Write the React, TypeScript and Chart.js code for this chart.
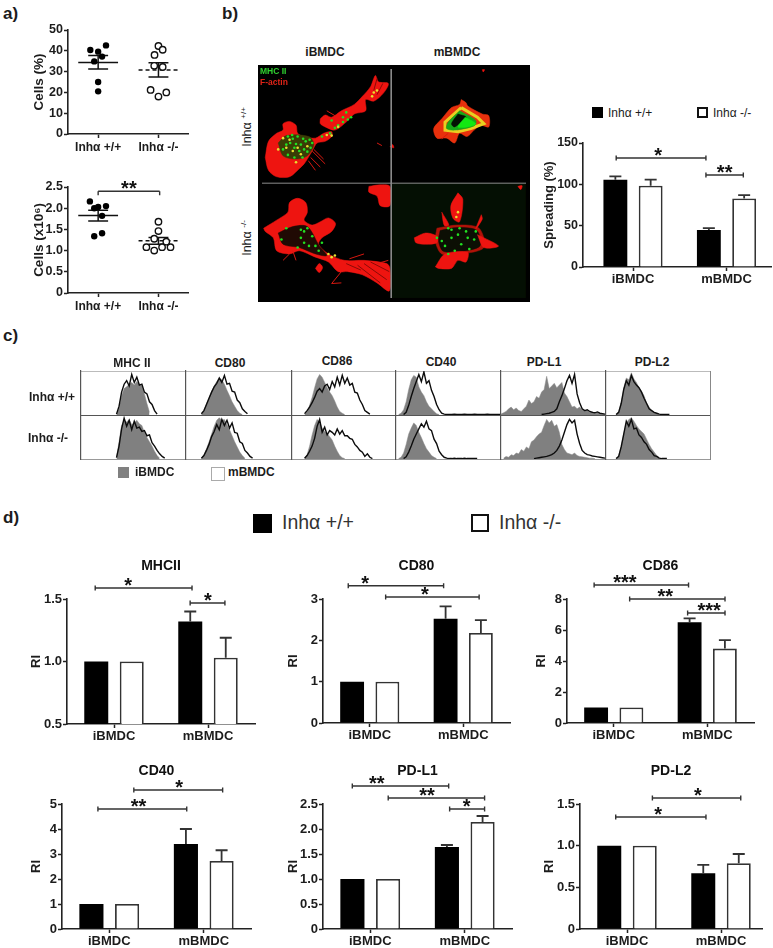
import { useEffect, useRef } from 'react';
import { Chart, registerables } from 'chart.js';

Chart.register(...registerables);
const FONT = "'Liberation Sans', Arial, sans-serif";
Chart.defaults.font.family = FONT;
Chart.defaults.color = '#1c1c1c';

// ---------- data ----------
const groups = ['iBMDC', 'mBMDC'];
const genotypes = ['Inhα +/+', 'Inhα -/-'];

// panel a: [x jitter, value]
const freqWt = [[0.13, 42.6], [-0.13, 40.4], [0, 39.6], [0.065, 37.2], [-0.065, 34.9], [0, 25], [0, 20.5]];
const freqKo = [[0, 42.3], [0.07, 40.5], [-0.065, 38], [-0.07, 32.8], [0.07, 32.2], [-0.13, 21.2], [0.13, 20], [0, 18]];
const freqWtSummary = [34.4, 31.25, 37.7];
const freqKoSummary = [30.8, 27.4, 34.3];
const countWt = [[-0.137, 2.16], [-0.065, 2.0], [0, 2.03], [0.13, 2.05], [0.065, 1.82], [0.065, 1.41], [-0.065, 1.34]];
const countKo = [[0, 1.68], [0, 1.46], [-0.07, 1.28], [0.13, 1.21], [-0.2, 1.08], [0.06, 1.08], [0.2, 1.08], [-0.07, 1.0]];
const countWtSummary = [1.83, 1.7, 1.95];
const countKoSummary = [1.23, 1.15, 1.31];

// bars: wild type / knockout means and upper error ends
const spreadingWt = [105.6, 44.8];
const spreadingKo = [98.4, 83];
const spreadingWtErr = [109.6, 47];
const spreadingKoErr = [105.6, 87];
const mhcWt = [1, 1.32];
const mhcKo = [1, 1.03];
const mhcWtErr = [1, 1.4];
const mhcKoErr = [1, 1.19];
const cd80Wt = [1, 2.52];
const cd80Ko = [1, 2.18];
const cd80WtErr = [1, 2.82];
const cd80KoErr = [1, 2.49];
const cd86Wt = [1, 6.5];
const cd86Ko = [1, 4.8];
const cd86WtErr = [1, 6.75];
const cd86KoErr = [1, 5.35];
const cd40Wt = [1, 3.4];
const cd40Ko = [1, 2.72];
const cd40WtErr = [1, 4.0];
const cd40KoErr = [1, 3.15];
const pdl1Wt = [1, 1.64];
const pdl1Ko = [1, 2.14];
const pdl1WtErr = [1, 1.68];
const pdl1KoErr = [1, 2.26];
const pdl2Wt = [1, 0.67];
const pdl2Ko = [1, 0.79];
const pdl2WtErr = [1, 0.77];
const pdl2KoErr = [1, 0.9];

// significance brackets: [from, to, level, label position, label]
const spreadingBrackets = [[-0.18, 0.78, 131.8, 0.27, '*'], [0.78, 1.18, 111.3, 0.98, '**']];
const mhcBrackets = [[-0.2, 0.83, 1.588, 0.15, '*'], [0.81, 1.18, 1.468, 1.0, '*']];
const cd80Brackets = [[-0.23, 0.79, 3.32, -0.05, '*'], [0.17, 1.17, 3.05, 0.59, '*']];
const cd86Brackets = [[-0.21, 0.8, 8.9, 0.12, '***'], [0.17, 1.19, 8.0, 0.55, '**'], [0.79, 1.19, 7.1, 1.02, '***']];
const cd40Brackets = [[0.26, 1.2, 5.56, 0.74, '*'], [-0.12, 0.82, 4.8, 0.31, '**']];
const pdl1Brackets = [[-0.19, 0.83, 2.86, 0.07, '**'], [0.19, 1.21, 2.62, 0.6, '**'], [0.84, 1.21, 2.4, 1.02, '*']];
const pdl2Brackets = [[0.27, 1.21, 1.572, 0.755, '*'], [-0.12, 0.84, 1.344, 0.33, '*']];
const countBrackets = [[0, 1.02, 2.4, 0.51, '**']];

// panel c: flow cytometry histograms, [first bin, heights]
const BIN_COUNT = 42;
const histMhcWtGrey = [14, [3, 16, 44, 60, 64, 70, 74, 68, 76, 70, 66, 48, 26, 6]];
const histMhcWtBlack = [14, [2, 20, 52, 70, 78, 66, 92, 74, 86, 68, 70, 52, 48, 30, 24, 10, 2]];
const histMhcKoGrey = [14, [4, 40, 78, 90, 86, 92, 80, 84, 90, 82, 78, 62, 50, 40, 30, 18, 8, 2]];
const histMhcKoBlack = [14, [3, 30, 70, 95, 76, 90, 68, 88, 72, 74, 64, 66, 54, 56, 38, 30, 20, 12, 6, 2]];
const hist80WtGrey = [6, [2, 10, 26, 40, 54, 66, 76, 84, 80, 70, 56, 44, 30, 20, 10, 4, 1]];
const hist80WtBlack = [6, [3, 10, 24, 38, 52, 64, 72, 84, 74, 90, 70, 72, 54, 52, 34, 28, 14, 8, 3]];
const hist80KoGrey = [6, [2, 10, 24, 40, 58, 76, 90, 96, 90, 92, 80, 68, 54, 40, 28, 16, 8, 2]];
const hist80KoBlack = [6, [2, 8, 20, 34, 52, 64, 80, 68, 92, 78, 90, 72, 84, 62, 60, 40, 36, 20, 14, 6, 2]];
const hist86WtGrey = [5, [2, 8, 22, 40, 62, 82, 92, 86, 74, 62, 52, 44, 32, 18, 8, 4, 1]];
const hist86WtBlack = [5, [3, 10, 18, 28, 40, 54, 60, 52, 66, 70, 58, 76, 64, 86, 68, 90, 72, 84, 68, 72, 52, 50, 34, 24, 10, 6, 2]];
const hist86KoGrey = [5, [2, 10, 30, 56, 78, 92, 86, 72, 64, 60, 52, 44, 30, 18, 8, 3, 1]];
const hist86KoBlack = [5, [2, 8, 18, 30, 48, 76, 92, 62, 74, 56, 66, 62, 56, 70, 58, 66, 54, 54, 48, 46, 34, 28, 20, 16, 6, 12, 4, 1]];
const hist40WtGrey = [1, [1, 4, 12, 30, 58, 80, 90, 86, 64, 52, 44, 30, 20, 14, 8, 3, 1]];
const hist40WtBlack = [3, [1, 6, 22, 42, 60, 76, 92, 76, 98, 72, 78, 56, 42, 24, 12, 4, 2, 1, 1, 1, 2, 1, 1, 1, 2, 1, 1, 1, 2, 1, 1, 1, 1, 2, 1, 1, 1, 1, 1]];
const hist40KoGrey = [1, [1, 4, 14, 34, 58, 72, 84, 78, 62, 50, 36, 24, 16, 8, 4, 1]];
const hist40KoBlack = [3, [1, 5, 16, 30, 46, 58, 70, 82, 74, 88, 70, 66, 46, 36, 18, 10, 4, 2, 1, 1, 2, 1, 1, 1, 2, 1, 1, 1, 1, 1]];
const histL1WtGrey = [0, [2, 5, 8, 14, 18, 12, 16, 10, 8, 14, 20, 34, 26, 30, 42, 38, 52, 58, 88, 60, 66, 72, 62, 68, 74, 50, 42, 30, 18, 20, 14, 18, 12, 8, 10, 6, 8, 4, 5, 2, 3, 1]];
const histL1WtBlack = [16, [1, 2, 3, 4, 6, 8, 14, 30, 44, 60, 78, 90, 72, 92, 48, 28, 14, 10, 12, 8, 6, 5, 7, 4, 3, 2]];
const histL1KoGrey = [1, [2, 6, 4, 10, 8, 14, 12, 22, 18, 28, 24, 40, 44, 52, 58, 62, 78, 92, 84, 90, 76, 80, 62, 34, 22, 14, 12, 10, 14, 8, 6, 5, 4, 3, 2, 2, 1]];
const histL1KoBlack = [13, [1, 2, 3, 4, 5, 6, 8, 10, 14, 20, 30, 44, 62, 80, 92, 84, 90, 58, 36, 20, 14, 10, 9, 7, 6, 5, 4, 3, 2, 1]];
const histL2WtGrey = [4, [1, 8, 30, 62, 84, 80, 96, 82, 74, 62, 54, 44, 28, 18, 10, 6, 3, 1]];
const histL2WtBlack = [4, [1, 6, 26, 58, 78, 68, 90, 76, 68, 62, 52, 38, 26, 14, 10, 6, 4, 2, 1, 1, 1, 1]];
const histL2KoGrey = [4, [1, 8, 32, 60, 84, 92, 96, 88, 78, 70, 64, 58, 46, 34, 24, 16, 8, 3]];
const histL2KoBlack = [4, [1, 6, 28, 58, 88, 76, 92, 70, 72, 56, 50, 40, 34, 22, 16, 8, 6, 2, 1, 1, 1]];
const histColumns = ['MHC II', 'CD80', 'CD86', 'CD40', 'PD-L1', 'PD-L2'];

const cellABlob = [[95, 470], [105, 420], [130, 395], [150, 385], [150, 365], [170, 358], [190, 370], [195, 395], [215, 405], [250, 410], [275, 395], [300, 390], [300, 405], [280, 420], [255, 425], [240, 450], [225, 475], [215, 490], [200, 505], [170, 530], [130, 530], [105, 510]];
const cellAArm = [[265, 350], [280, 338], [300, 345], [330, 325], [370, 305], [395, 280], [420, 250], [435, 215], [445, 235], [475, 240], [460, 270], [430, 295], [405, 290], [405, 325], [370, 335], [345, 360], [310, 385], [280, 375], [265, 365]];
const cellACore = [[135, 425], [160, 402], [230, 405], [245, 430], [225, 465], [190, 475], [150, 465]];
const cellBBody = [[700, 290], [715, 300], [720, 310], [765, 335], [785, 340], [785, 375], [760, 370], [740, 385], [718, 405], [695, 395], [680, 425], [655, 410], [625, 410], [615, 380], [640, 350], [670, 315], [695, 305]];
const cellBRing = [[700, 315], [750, 345], [770, 365], [730, 380], [690, 390], [650, 385], [650, 360]];
const cellBInner = [[695, 325], [745, 355], [740, 372], [680, 385], [655, 380], [660, 360]];
const cellBVoid = [[690, 335], [715, 345], [680, 375], [670, 365]];
const cellBBright = [[712, 345], [745, 365], [720, 375], [690, 375]];
const cellCBody = [[90, 690], [130, 665], [165, 640], [170, 610], [195, 597], [220, 610], [225, 640], [215, 665], [240, 680], [265, 670], [290, 658], [312, 675], [300, 700], [270, 720], [260, 740], [290, 770], [340, 790], [400, 790], [470, 800], [480, 815], [478, 885], [440, 860], [395, 835], [350, 825], [320, 825], [290, 795], [250, 780], [200, 760], [170, 770], [130, 760], [120, 720], [95, 700]];
const cellCCore = [[135, 705], [180, 685], [225, 685], [262, 745], [285, 775], [250, 770], [200, 750], [150, 740]];
const cellCBlob = [[415, 560], [450, 555], [480, 560], [480, 620], [450, 620], [440, 590], [415, 578]];
const cellCSmall = [[250, 815], [262, 800], [272, 812], [262, 828]];
const cellDSpike = [[690, 580], [705, 600], [695, 670], [675, 660], [668, 620]];
const cellDLeft = [[555, 720], [590, 705], [625, 715], [625, 735], [590, 740], [560, 735]];
const cellDRight = [[750, 710], [815, 745], [770, 750]];
const cellDTop = [[640, 640], [662, 680], [648, 682]];
const cellDUpper = [[762, 648], [765, 662], [745, 692]];
const cellDLower = [[620, 810], [650, 770], [720, 765], [715, 795], [690, 790], [670, 815], [630, 815]];
const cellDBody = [[625, 690], [690, 680], [755, 690], [770, 750], [700, 770], [640, 770], [620, 730]];
const cellDCore = [[635, 697], [690, 688], [748, 697], [758, 745], [700, 762], [645, 762], [630, 730]];
const redFlecks = [[[480, 437], [488, 430], [492, 440]], [[875, 560], [888, 558], [884, 570]], [[765, 197], [772, 197], [768, 204]]];
const redSpikes = [
  [[240, 450], [280, 490]], [[245, 445], [275, 475]], [[235, 470], [265, 500]], [[228, 480], [250, 510]],
  [[285, 325], [310, 340]], [[440, 425], [455, 433]], [[660, 395], [640, 412]],
  [[180, 760], [190, 790]], [[355, 785], [400, 770]], [[330, 825], [300, 862], [330, 860]], [[170, 770], [150, 790]],
  [[440, 800], [475, 790]],
];
const darkStreaks = [[[400, 800], [470, 850]], [[420, 795], [478, 825]], [[380, 805], [450, 860]], [[345, 800], [390, 820]], [[440, 225], [430, 262]], [[458, 240], [440, 275]]];
const greenSpots = [
  [165, 405], [180, 412], [195, 405], [172, 425], [190, 428], [205, 430], [220, 420], [232, 415], [150, 445], [165, 462], [200, 450], [215, 445], [235, 440], [240, 425], [185, 470], [210, 470], [178, 400], [212, 412], [160, 430], [185, 440], [225, 452],
  [320, 370], [335, 345], [345, 330], [360, 345], [300, 355], [310, 378], [350, 352], [335, 360], [295, 395], [270, 405],
  [205, 720], [215, 735], [230, 745], [240, 715], [215, 700], [195, 750], [260, 760], [250, 745], [225, 690], [160, 690], [145, 725], [270, 735], [205, 695],
  [660, 690], [670, 720], [690, 710], [700, 740], [720, 720], [740, 725], [650, 745], [680, 760], [660, 770], [725, 755], [715, 700], [670, 695], [640, 730], [745, 700], [695, 690], [625, 720],
];
const yellowSpots = [[170, 415], [160, 440], [195, 440], [180, 450], [205, 460], [225, 435], [150, 410], [135, 445], [190, 485], [430, 268], [440, 262], [425, 280], [320, 375], [285, 400], [300, 402], [290, 770], [300, 780], [310, 775], [685, 655], [690, 640]];
const gridLinesV = [[484, 195], [484, 907]];
const gridLinesH = [[85, 550], [900, 550]];
const darkGreenQuarter = [[484, 550], [900, 550], [900, 907], [484, 907]];

// ---------- helpers ----------
const INK = '#222';
const bins = ([first, vals]: any) => Array.from({ length: BIN_COUNT }, (_, i) => (i >= first && i < first + vals.length ? vals[i - first] : null));

function drawBrackets(chart: any, brackets: any[], capDown = false) {
  const { ctx, scales: { x, y } } = chart;
  ctx.save();
  ctx.strokeStyle = '#333';
  ctx.lineWidth = 1.4;
  ctx.fillStyle = '#111';
  ctx.textAlign = 'center';
  ctx.textBaseline = 'alphabetic';
  ctx.font = `bold 20px ${FONT}`;
  for (const [from, to, level, at, label] of brackets) {
    const x0 = x.getPixelForValue(from);
    const x1 = x.getPixelForValue(to);
    const py = y.getPixelForValue(level);
    ctx.beginPath();
    ctx.moveTo(x0, py); ctx.lineTo(x1, py);
    for (const e of [x0, x1]) { ctx.moveTo(e, capDown ? py : py - 2.5); ctx.lineTo(e, capDown ? py + 4 : py + 2.5); }
    ctx.stroke();
    ctx.fillText(label, x.getPixelForValue(at), py + 4);
  }
  ctx.restore();
}

function scales(p: any, labels: string[]) {
  const [min, max] = p.xRange;
  return {
    x: {
      type: 'linear', min, max, offset: false,
      afterBuildTicks: (s: any) => { s.ticks = labels.map((_, i) => ({ value: i })); },
      afterFit: (s: any) => { s.height = 26; },
      grid: { display: true, offset: false, drawOnChartArea: false, drawTicks: true, tickLength: 4, tickColor: INK, tickWidth: 1.5 },
      border: { display: true, color: INK, width: 1.6 },
      ticks: { autoSkip: false, maxRotation: 0, padding: p.xPad ?? 1, font: { size: p.xFont ?? 13, weight: 'bold' }, callback: (v: number) => labels[v] },
    },
    y: {
      min: p.yRange[0], max: p.yRange[1],
      afterFit: (s: any) => { s.width = 50; },
      grid: { display: true, drawOnChartArea: false, drawTicks: true, tickLength: 4, tickColor: INK, tickWidth: 1.5 },
      border: { display: true, color: INK, width: 1.6 },
      ticks: { stepSize: p.step, padding: 1, font: { size: p.tickFont ?? 13, weight: 'bold' } },
      title: { display: true, text: p.yTitle, font: { size: p.titleFont ?? 13, weight: 'bold' }, padding: { top: 50 - p.titleDist - 7.8, bottom: 0 } },
    },
  };
}

function baseOptions(p: any, labels: string[]) {
  const T = 45;
  return {
    responsive: false, animation: false, events: [],
    layout: { padding: { left: 0, right: 4, top: p.title ? 0 : T, bottom: 0 } },
    plugins: {
      legend: { display: false }, tooltip: { enabled: false },
      title: p.title
        ? { display: true, fullSize: false, text: p.title, color: '#111', font: { size: 14, weight: 'bold', lineHeight: 1.2 }, padding: { top: 3.8, bottom: T - 16.8 - 3.8 } }
        : { display: false },
    },
    scales: scales(p, labels),
  };
}

function barConfig(p: any) {
  const toPts = (a: number[]) => a.map((y, x) => ({ x, y }));
  return {
    type: 'bar',
    data: {
      datasets: [
        { label: genotypes[0], data: toPts(p.wt), backgroundColor: '#000', borderWidth: 0, categoryPercentage: 0.755, barPercentage: 0.676 },
        { label: genotypes[1], data: toPts(p.ko), backgroundColor: '#fff', borderColor: '#333', borderWidth: 1.8, categoryPercentage: 0.755, barPercentage: 0.676 },
      ],
    },
    options: baseOptions(p, groups),
    plugins: [{
      id: 'marks',
      afterDatasetsDraw(chart: any) {
        const { ctx, scales: { y } } = chart;
        ctx.save();
        ctx.strokeStyle = '#333';
        ctx.lineWidth = 1.8;
        [p.wtErr, p.koErr].forEach((errs: number[], d: number) => {
          const src = d === 0 ? p.wt : p.ko;
          chart.getDatasetMeta(d).data.forEach((bar: any, i: number) => {
            if (errs[i] <= src[i]) return;
            const top = y.getPixelForValue(errs[i]);
            ctx.beginPath();
            ctx.moveTo(bar.x, y.getPixelForValue(src[i])); ctx.lineTo(bar.x, top);
            ctx.moveTo(bar.x - 6, top); ctx.lineTo(bar.x + 6, top);
            ctx.stroke();
          });
        });
        ctx.restore();
        drawBrackets(chart, p.brackets);
      },
    }],
  };
}

function summaryDatasets(center: number, [mean, lo, hi]: number[], dashed: boolean) {
  const line = (data: any[], dash: number[] = []) => ({ type: 'scatter', showLine: true, data, borderColor: '#111', borderWidth: 1.5, borderDash: dash, pointRadius: 0 });
  return [
    line([{ x: center - 0.33, y: mean }, { x: center + 0.33, y: mean }], dashed ? [4, 3] : []),
    line([{ x: center - 0.165, y: lo }, { x: center + 0.165, y: lo }]),
    line([{ x: center - 0.165, y: hi }, { x: center + 0.165, y: hi }]),
    line([{ x: center, y: lo }, { x: center, y: hi }]),
  ];
}

function scatterConfig(p: any) {
  const pts = (a: number[][], c: number) => a.map(([dx, y]) => ({ x: c + dx, y }));
  return {
    type: 'scatter',
    data: {
      datasets: [
        { data: pts(p.wt, 0), backgroundColor: '#000', borderColor: '#000', pointRadius: 3.2, borderWidth: 0 },
        { data: pts(p.ko, 1), backgroundColor: '#fff', borderColor: '#111', pointRadius: 3.2, pointBorderWidth: 1.4 },
        ...summaryDatasets(0, p.wtSummary, false),
        ...summaryDatasets(1, p.koSummary, true),
      ],
    },
    options: baseOptions(p, genotypes),
    plugins: [{ id: 'marks', afterDatasetsDraw(chart: any) { drawBrackets(chart, p.brackets, true); } }],
  };
}

function histConfig(grey: any, black: any, bottomColor: string) {
  const labels = Array.from({ length: BIN_COUNT }, (_, i) => i);
  return {
    type: 'line',
    data: {
      labels,
      datasets: [
        { data: bins(black), borderColor: '#0c0c0c', borderWidth: 1.4, pointRadius: 0, fill: false, tension: 0 },
        { data: bins(grey), borderColor: '#8a8a8a', borderWidth: 0.5, backgroundColor: '#808080', pointRadius: 0, fill: 'origin', tension: 0 },
      ],
    },
    options: {
      responsive: false, animation: false, events: [],
      layout: { padding: { left: 1, right: 0, top: 1, bottom: 1 } },
      plugins: { legend: { display: false }, tooltip: { enabled: false } },
      scales: {
        x: { offset: false, afterFit: (s: any) => { s.height = 0; }, grid: { display: false }, ticks: { display: false }, border: { display: true, color: bottomColor, width: 1 } },
        y: { min: 0, max: 100, afterFit: (s: any) => { s.width = 0; }, grid: { display: false }, ticks: { display: false }, border: { display: true, color: '#555', width: 1.2 } },
      },
    },
  };
}

function microConfig() {
  const P = (a: number[][]) => a.map(([x, y]) => ({ x, y }));
  const poly = (a: number[][], color: string) => ({ type: 'scatter', showLine: true, tension: 0.3, fill: 'shape', data: P([...a, a[0]]), backgroundColor: color, borderColor: color, borderWidth: 0.5, pointRadius: 0 });
  const stroke = (a: number[][], color: string, w = 1) => ({ type: 'scatter', showLine: true, fill: false, data: P(a), borderColor: color, borderWidth: w, pointRadius: 0 });
  const dots = (a: number[][], color: string) => ({ type: 'scatter', showLine: false, data: P(a), backgroundColor: color, pointRadius: 1.3, borderWidth: 0 });
  const RED = '#ee1410';
  const layers = [
    poly(darkGreenQuarter, '#040f03'),
    poly(cellABlob, RED), poly(cellAArm, RED), poly(cellACore, '#3a3c06'),
    poly(cellBBody, '#e8300c'), stroke([...cellBRing, cellBRing[0]], '#e8d020', 3), poly(cellBInner, '#18a818'), poly(cellBVoid, '#041004'), poly(cellBBright, '#12e812'),
    poly(cellCBody, RED), poly(cellCCore, '#200a04'), poly(cellCBlob, RED), poly(cellCSmall, RED),
    poly(cellDBody, '#b01208'), poly(cellDCore, '#0c0f04'), poly(cellDSpike, RED), poly(cellDLeft, RED), poly(cellDRight, RED), poly(cellDTop, RED), poly(cellDUpper, RED), poly(cellDLower, RED),
    ...redFlecks.map((f) => poly(f, RED)),
    ...redSpikes.map((s) => stroke(s, '#d81810', 1)),
    ...darkStreaks.map((s) => stroke(s, '#8a0a06', 1)),
    dots(greenSpots, '#22e022'), dots(yellowSpots, '#e8e030'),
    stroke(gridLinesV, '#8c8c8c', 1), stroke(gridLinesH, '#8c8c8c', 1),
  ];
  layers[0].tension = 0;
  layers.forEach((l: any, i) => { l.order = layers.length - i; });
  return {
    type: 'scatter',
    data: { datasets: layers },
    options: {
      responsive: false, animation: false, events: [],
      layout: { padding: 0 },
      plugins: { legend: { display: false }, tooltip: { enabled: false } },
      scales: {
        x: { type: 'linear', min: 85, max: 900, display: false },
        y: { type: 'linear', min: 195, max: 907, reverse: true, display: false },
      },
    },
    plugins: [{
      id: 'stage',
      beforeDraw(chart: any) { const { ctx, width, height } = chart; ctx.save(); ctx.fillStyle = '#000'; ctx.fillRect(0, 0, width, height); ctx.restore(); },
      afterDraw(chart: any) {
        const { ctx } = chart;
        ctx.save();
        ctx.font = `bold 8.5px ${FONT}`;
        ctx.textBaseline = 'middle';
        ctx.fillStyle = '#2fd02f'; ctx.fillText('MHC II', 2, 7);
        ctx.fillStyle = '#e02418'; ctx.fillText('F-actin', 2, 18);
        ctx.restore();
      },
    }],
  };
}

function ChartCanvas({ left, top, width, height, make }: any) {
  const ref = useRef<HTMLCanvasElement>(null);
  useEffect(() => {
    const chart = new Chart(ref.current as any, make());
    return () => chart.destroy();
  }, []);
  return <canvas ref={ref} width={width} height={height} style={{ position: 'absolute', left, top, width, height, display: 'block' }} />;
}

function AxisChart({ area, make }: any) {
  const [l, r, t, b] = area;
  return <ChartCanvas left={l - 50} top={t - 45} width={r - l + 54} height={b - t + 45 + 26} make={make} />;
}

function Txt({ x, y, children, size = 12, bold = true, anchor = 'left', rot = 0, color = '#1c1c1c' }: any) {
  const tx = anchor === 'center' ? '-50%' : '0';
  return (
    <div style={{ position: 'absolute', left: x, top: y, transform: `translate(${tx},-50%) rotate(${rot}deg)`, fontFamily: FONT, fontSize: size, fontWeight: bold ? 700 : 400, color, whiteSpace: 'nowrap', lineHeight: 1 }}>
      {children}
    </div>
  );
}

function Box({ x, y, s, fill, border = 2, color = '#111' }: any) {
  return <div style={{ position: 'absolute', left: x, top: y, width: s, height: s, boxSizing: 'border-box', background: fill, border: `${border}px solid ${color}` }} />;
}

const barPanels = [
  { area: [583, 771, 143, 267], xRange: [-0.535, 1.476], yRange: [0, 150], step: 50, yTitle: 'Spreading (%)', titleDist: 34, tickFont: 12.5, wt: spreadingWt, ko: spreadingKo, wtErr: spreadingWtErr, koErr: spreadingKoErr, brackets: spreadingBrackets },
  { title: 'MHCII', area: [67, 255, 599, 724], xRange: [-0.5, 1.5], yRange: [0.5, 1.5], step: 0.5, yTitle: 'RI', titleDist: 31, wt: mhcWt, ko: mhcKo, wtErr: mhcWtErr, koErr: mhcKoErr, brackets: mhcBrackets },
  { title: 'CD80', area: [323, 510, 599, 723], xRange: [-0.5, 1.5], yRange: [0, 3], step: 1, yTitle: 'RI', titleDist: 30, wt: cd80Wt, ko: cd80Ko, wtErr: cd80WtErr, koErr: cd80KoErr, brackets: cd80Brackets },
  { title: 'CD86', area: [567, 754, 599, 723], xRange: [-0.5, 1.5], yRange: [0, 8], step: 2, yTitle: 'RI', titleDist: 26, wt: cd86Wt, ko: cd86Ko, wtErr: cd86WtErr, koErr: cd86KoErr, brackets: cd86Brackets },
  { title: 'CD40', area: [62, 251, 804, 929], xRange: [-0.5, 1.5], yRange: [0, 5], step: 1, yTitle: 'RI', titleDist: 26, wt: cd40Wt, ko: cd40Ko, wtErr: cd40WtErr, koErr: cd40KoErr, brackets: cd40Brackets },
  { title: 'PD-L1', area: [323, 512, 804, 929], xRange: [-0.5, 1.5], yRange: [0, 2.5], step: 0.5, yTitle: 'RI', titleDist: 30, wt: pdl1Wt, ko: pdl1Ko, wtErr: pdl1WtErr, koErr: pdl1KoErr, brackets: pdl1Brackets },
  { title: 'PD-L2', area: [580, 762, 804, 929], xRange: [-0.5, 1.436], yRange: [0, 1.5], step: 0.5, yTitle: 'RI', titleDist: 31, wt: pdl2Wt, ko: pdl2Ko, wtErr: pdl2WtErr, koErr: pdl2KoErr, brackets: pdl2Brackets },
];

const scatterPanels = [
  { area: [68, 190, 30, 134], xRange: [-0.5, 1.5], yRange: [0, 50], step: 10, yTitle: 'Cells (%)', titleFont: 13.5, titleDist: 29, tickFont: 12.5, xFont: 12, xPad: 2, wt: freqWt, ko: freqKo, wtSummary: freqWtSummary, koSummary: freqKoSummary, brackets: [] },
  { area: [68, 190, 187, 293], xRange: [-0.5, 1.5], yRange: [0, 2.5], step: 0.5, yTitle: 'Cells (x10⁶)', titleFont: 13.5, titleDist: 29, tickFont: 12.5, xFont: 12, xPad: 2, wt: countWt, ko: countKo, wtSummary: countWtSummary, koSummary: countKoSummary, brackets: countBrackets },
];

const histEdges = [80, 185, 291, 395, 500, 605, 710];
const histRows = [
  { top: 370, height: 46, bottom: '#555', cells: [[histMhcWtGrey, histMhcWtBlack], [hist80WtGrey, hist80WtBlack], [hist86WtGrey, hist86WtBlack], [hist40WtGrey, hist40WtBlack], [histL1WtGrey, histL1WtBlack], [histL2WtGrey, histL2WtBlack]] },
  { top: 415, height: 45, bottom: '#999', cells: [[histMhcKoGrey, histMhcKoBlack], [hist80KoGrey, hist80KoBlack], [hist86KoGrey, hist86KoBlack], [hist40KoGrey, hist40KoBlack], [histL1KoGrey, histL1KoBlack], [histL2KoGrey, histL2KoBlack]] },
];
const histTitles = [[132, 363], [230, 363], [337, 361], [441, 362], [544, 362], [652, 362]];

export default function App() {
  return (
    <div style={{ position: 'absolute', left: 0, top: 0, width: 773, height: 948, overflow: 'hidden', background: '#fff' }}>
      <Txt x={3} y={13} size={17}>a)</Txt>
      <Txt x={222} y={13} size={17}>b)</Txt>
      <Txt x={3} y={335} size={17}>c)</Txt>
      <Txt x={3} y={517} size={17}>d)</Txt>

      {scatterPanels.map((p, i) => <AxisChart key={`s${i}`} area={p.area} make={() => scatterConfig(p)} />)}

      <Txt x={325} y={52} anchor="center">{groups[0]}</Txt>
      <Txt x={457} y={52} anchor="center">{groups[1]}</Txt>
      <Txt x={247} y={127} anchor="center" rot={-90} bold={false} size={12.5}>Inhα <sup style={{ fontSize: 8 }}>+/+</sup></Txt>
      <Txt x={247} y={238} anchor="center" rot={-90} bold={false} size={12.5}>Inhα <sup style={{ fontSize: 8 }}>-/-</sup></Txt>
      <ChartCanvas left={258} top={65} width={272} height={237} make={microConfig} />

      <Box x={592} y={107} s={11} fill="#000" border={0} />
      <Txt x={608} y={113} bold={false}>{genotypes[0]}</Txt>
      <Box x={697} y={107} s={11} fill="#fff" />
      <Txt x={713} y={113} bold={false}>{genotypes[1]}</Txt>

      {histTitles.map(([x, y], i) => <Txt key={`ht${i}`} x={x} y={y} anchor="center">{histColumns[i]}</Txt>)}
      <Txt x={29} y={397}>{genotypes[0]}</Txt>
      <Txt x={28} y={438}>{genotypes[1]}</Txt>
      <div style={{ position: 'absolute', left: 80, top: 371, width: 630, height: 1, background: '#bbb' }} />
      <div style={{ position: 'absolute', left: 710, top: 371, width: 1, height: 89, background: '#888' }} />
      {histRows.map((row, r) => row.cells.map(([grey, black], c) => (
        <ChartCanvas key={`h${r}-${c}`} left={histEdges[c]} top={row.top} width={histEdges[c + 1] - histEdges[c]} height={row.height} make={() => histConfig(grey, black, row.bottom)} />
      )))}
      <Box x={118} y={467} s={11} fill="#808080" border={0} />
      <Txt x={135} y={472}>{groups[0]}</Txt>
      <Box x={211} y={467} s={14} fill="#fff" border={1} color="#aaa" />
      <Txt x={228} y={472}>{groups[1]}</Txt>

      <Box x={253} y={514} s={19} fill="#000" border={0} />
      <Txt x={282} y={523} size={19.5} bold={false} color="#333">{genotypes[0]}</Txt>
      <Box x={471} y={514} s={18} fill="#fff" border={2.5} />
      <Txt x={499} y={523} size={19.5} bold={false} color="#333">{genotypes[1]}</Txt>

      {barPanels.map((p, i) => <AxisChart key={`b${i}`} area={p.area} make={() => barConfig(p)} />)}
    </div>
  );
}
